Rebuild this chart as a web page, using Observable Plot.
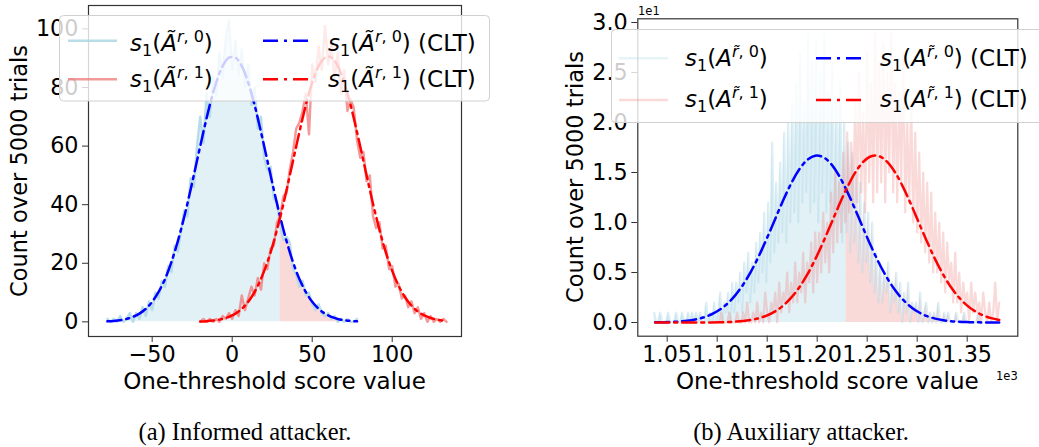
<!DOCTYPE html>
<html><head><meta charset="utf-8">
<script src="https://cdn.jsdelivr.net/npm/d3@7"></script>
<script src="https://cdn.jsdelivr.net/npm/@observablehq/plot@0.6"></script>
<style>
body{margin:0;background:#fff}
#wrap{position:relative;width:1039px;height:447px;overflow:hidden;background:#fff}
.panel{position:absolute;top:0}
#ov{position:absolute;left:0;top:0}
</style>
</head><body>
<div id="wrap"><div id="pa" class="panel" style="left:0px"></div><div id="pb" class="panel" style="left:520px"></div><svg id="ov" width="1039" height="447"></svg></div>
<script>
// ---------- Panel (a): Informed attacker ----------
const aBinStart0 = -78, aBinStart1 = -20, aBinStep = 2;
const aHist0 = [1,0,1,0,2,0,1,3,0,3,1,5,2,7,4,10,8,14,12,19,17,26,24,31,38,36,49,46,60,70,61,78,70,84,77,92,83,97,103,86,96,84,93,80,88,74,80,66,70,56,52,53,42,41,33,28,29,27,18,16,12,14,9,10,6,4,6,3,2,3,1,2,0,1,0,1,0,0,1];
const aHist1 = [0,1,0,1,0,1,0,2,1,3,1,4,2,9,4,8,12,9,15,11,20,18,25,26,34,36,43,44,52,58,66,68,72,78,64,88,82,94,86,101,88,95,83,92,78,86,72,76,73,62,56,58,48,50,36,32,34,25,26,18,19,12,13,8,9,5,7,3,5,1,3,0,2,0,1,0,1,0];
const aCltStart0 = -78, aCltStart1 = -20, aCltStep = 4;
const aClt0 = [0.17,0.32,0.57,1.0,1.71,2.8,4.46,6.85,10.2,14.6,20.4,27.5,35.8,45.1,55.0,64.8,74.0,81.7,87.3,90.2,90.2,87.3,81.7,74.0,64.8,55.0,45.1,35.8,27.5,20.4,14.6,10.2,6.85,4.46,2.8,1.71,1.0,0.57,0.32,0.17];
const aClt1 = [0.12,0.23,0.43,0.76,1.32,2.2,3.55,5.55,8.39,12.3,17.4,23.7,31.5,40.3,50.0,59.9,69.5,78.1,84.8,89.1,90.6,89.1,84.8,78.1,69.5,59.9,50.0,40.3,31.5,23.7,17.4,12.3,8.39,5.55,3.55,2.2,1.32,0.76,0.43];
const aThreshold = 30;
const aXTicks = [-50, 0, 50, 100];
const aYTicks = [0, 20, 40, 60, 80, 100];

// ---------- Panel (b): Auxiliary attacker ----------
const bBinStart0 = 1037, bBinStart1 = 1100, bBinStep = 2;
const bHist0 = [1,0,0,1,0,0,0,1,0,0, 0,1,0,0,1,0,0,1,0,1, 0,1,0,1,0,0,2,0,1,0, 2,0,1,3,0,2,1,3,0,4, 1,4,2,5,1,6,3,7,2,6, 3,8,4,9,5,11,4,12,6,18, 7,14,8,16,9,19,8,20,10,22, 11,24,10,27,12,22,13,29,11,26, 12,28,10,25,13,29,11,23,12,26, 10,22,11,24,8,20,9,18,7,17, 8,15,6,14,5,12,6,11,4,10, 3,7,2,6,2,5,3,6,1,4, 2,5,1,4,0,3,1,4,0,2, 1,2,0,3,0,1,2,0,1,0, 1,0,2,0,0,1,0,1,0,0, 0,1,0,0,0,1,0,0,0,0, 0,0,1,0,0];
const bHist1 = [0,0,1,0,0,0,1,0,0,0, 1,0,0,1,0,2,0,0,1,0, 2,0,1,0,3,1,0,2,1,3, 0,4,1,3,2,5,1,4,2,6, 2,5,3,7,2,6,4,8,3,9, 4,9,5,11,6,10,5,13,7,15, 8,14,9,17,10,19,11,18,12,22, 12,25,13,21,11,27,14,24,12,29, 13,26,14,28,12,25,15,29,13,24, 12,23,14,27,11,20,12,22,10,19, 9,17,8,15,7,14,6,13,5,11, 5,10,4,9,3,8,4,6,2,7, 2,5,1,4,2,3,0,4,1,3, 1,2,0,3,1,0,2,0,1,4, 0,2];
const bCltStart = 1038, bCltStep = 8;
const bClt0 = [0.014,0.027,0.052,0.097,0.173,0.298,0.497,0.80,1.244,1.869,2.71,3.80,5.14,6.72,8.49,10.36,12.22,13.91,15.30,16.25,16.68,16.54,15.84,14.65,13.09,11.30,9.42,7.59,5.90,4.44,3.22,2.26,1.53,1.00,0.63,0.387,0.228,0.130,0.072,0.038,0.020,0.010,0.005,0.002];
const bClt1 = [0,0,0.0002,0.0005,0.0012,0.0026,0.0056,0.0116,0.023,0.045,0.083,0.150,0.261,0.439,0.713,1.118,1.693,2.48,3.50,4.78,6.31,8.04,9.89,11.77,13.51,14.99,16.06,16.63,16.63,16.06,14.99,13.51,11.77,9.89,8.04,6.31,4.78,3.50,2.48,1.69,1.12,0.71,0.44,0.26];
const bThreshold = 1229;
const bXTicks = [1050, 1100, 1150, 1200, 1250, 1300, 1350];
const bYTicks = [0, 5, 10, 15, 20, 25, 30];

// ---------- Texts ----------
const xLabel = "One-threshold score value";
const yLabel = "Count over 5000 trials";
const captions = ["(a) Informed attacker.", "(b) Auxiliary attacker."];

const rows = (vals, start, step) => vals.map((y, i) => ({x: start + step * i, y}));

const LB = "#add8e6", LC = "#f08080";
const DASH = "14,5,3,5";

function panel({h0, h1, c0, c1, t, xDomain, yDomain, xTicks, yTicks, xFmt, yFmt, m, histOp0, histOp1, histW}) {
  return Plot.plot({
    width: m.w, height: 400,
    marginLeft: m.l, marginRight: m.r, marginTop: m.t, marginBottom: m.b,
    x: {domain: xDomain},
    y: {domain: yDomain},
    style: {fontFamily: "DejaVu Sans", fontSize: "22.3px", color: "black", background: "transparent", overflow: "visible"},
    marks: [
      Plot.areaY(h0.filter(d => d.x <= t), {x: "x", y: "y", fill: LB, fillOpacity: 0.35}),
      Plot.areaY(h0.filter(d => d.x >= t), {x: "x", y: "y", fill: LC, fillOpacity: 0.3}),
      Plot.lineY(h0, {x: "x", y: "y", stroke: LB, strokeWidth: histW, strokeOpacity: histOp0}),
      Plot.lineY(h1, {x: "x", y: "y", stroke: LC, strokeWidth: histW, strokeOpacity: histOp1}),
      Plot.line(c0, {x: "x", y: "y", stroke: "blue", strokeWidth: 2.5, strokeDasharray: DASH, curve: "catmull-rom"}),
      Plot.line(c1, {x: "x", y: "y", stroke: "red", strokeWidth: 2.5, strokeDasharray: DASH, curve: "catmull-rom"}),
      Plot.frame({stroke: "#333", strokeWidth: 1.2}),
      Plot.axisX({ticks: xTicks, tickFormat: xFmt, tickSize: 6, tickPadding: 4, label: null, stroke: "#333"}),
      Plot.axisY({ticks: yTicks, tickFormat: yFmt, tickSize: 6, tickPadding: 4, label: null, stroke: "#333"})
    ]
  });
}

const minus = d => (d < 0 ? "\u2212" : "") + Math.abs(d);
document.getElementById("pa").append(panel({
  h0: rows(aHist0, aBinStart0, aBinStep), h1: rows(aHist1, aBinStart1, aBinStep),
  c0: rows(aClt0, aCltStart0, aCltStep), c1: rows(aClt1, aCltStart1, aCltStep),
  t: aThreshold, xDomain: [-89.8, 143.3], yDomain: [-5, 108], xTicks: aXTicks, yTicks: aYTicks,
  xFmt: minus, yFmt: d => String(d),
  m: {w: 520, l: 88, r: 59, t: 5, b: 64}, histOp0: 0.85, histOp1: 0.8, histW: 2.4
}));
document.getElementById("pb").append(panel({
  h0: rows(bHist0, bBinStart0, bBinStep), h1: rows(bHist1, bBinStart1, bBinStep),
  c0: rows(bClt0, bCltStart, bCltStep), c1: rows(bClt1, bCltStart, bCltStep),
  t: bThreshold, xDomain: [1020.6, 1400.6], yDomain: [-1.37, 30.37], xTicks: bXTicks, yTicks: bYTicks,
  xFmt: d => (d / 1000).toFixed(2), yFmt: d => (d / 10).toFixed(1),
  m: {w: 519, l: 117.3, r: 21.7, t: 18.3, b: 64.3}, histOp0: 0.4, histOp1: 0.3, histW: 2.2
}));

// ---------- Overlay: labels, legends, captions ----------
const ov = d3.select("#ov").attr("font-family", "DejaVu Sans");
ov.append("text").attr("x", 274.5).attr("y", 389).attr("text-anchor", "middle").attr("font-size", 23).text(xLabel);
ov.append("text").attr("x", 827.3).attr("y", 389).attr("text-anchor", "middle").attr("font-size", 23).text(xLabel);
ov.append("text").attr("transform", "translate(27,171) rotate(-90)").attr("text-anchor", "middle").attr("font-size", 22.5).text(yLabel);
ov.append("text").attr("transform", "translate(583,177) rotate(-90)").attr("text-anchor", "middle").attr("font-size", 22.5).text(yLabel);
ov.append("text").attr("x", 638).attr("y", 15).attr("font-size", 11.5).text("1e1");
ov.append("text").attr("x", 996).attr("y", 380).attr("font-size", 11.5).text("1e3");
ov.append("text").attr("x", 245).attr("y", 440).attr("text-anchor", "middle").attr("font-family", "Liberation Serif").attr("font-size", 24.5).text(captions[0]);
ov.append("text").attr("x", 801).attr("y", 440).attr("text-anchor", "middle").attr("font-family", "Liberation Serif").attr("font-size", 24.5).text(captions[1]);

function label(x, y, head, supVar, digit, suffix) {
  const t = ov.append("text").attr("x", x).attr("y", y).attr("font-size", 23);
  t.append("tspan").attr("font-style", "italic").text("s");
  t.append("tspan").attr("font-size", 16).attr("dy", 5).text("1");
  t.append("tspan").attr("dy", -5).text("(");
  t.append("tspan").attr("font-style", "italic").text(head);
  t.append("tspan").attr("font-size", 16).attr("dy", -9).attr("font-style", "italic").text(supVar);
  t.append("tspan").attr("font-size", 16).text(", " + digit);
  t.append("tspan").attr("dy", 9).text(")" + suffix);
}
function legend(box, handles, texts) {
  ov.append("rect").attr("x", box[0]).attr("y", box[1]).attr("width", box[2]).attr("height", box[3])
    .attr("rx", 4).attr("fill", "white").attr("fill-opacity", 0.8).attr("stroke", "#d0d0d0").attr("stroke-width", 1);
  for (const h of handles) {
    ov.append("line").attr("x1", h.x1).attr("x2", h.x2).attr("y1", h.y).attr("y2", h.y)
      .attr("stroke", h.c).attr("stroke-width", h.w).attr("stroke-opacity", h.o).attr("stroke-dasharray", h.d || null);
  }
  for (const s of texts) label(...s);
}
// left legend
legend([59.5, 15.5, 430, 85.5], [
  {x1: 68, x2: 117, y: 40.7, c: LB, w: 2.5, o: 0.85},
  {x1: 68, x2: 117, y: 79.3, c: LC, w: 2.5, o: 0.8},
  {x1: 263, x2: 311, y: 40.7, c: "blue", w: 2.5, o: 1, d: "15,6,3,6"},
  {x1: 263, x2: 311, y: 79.3, c: "red", w: 2.5, o: 1, d: "15,6,3,6"}
], [
  [130, 50.5, "\u00C3", "r", "0", ""],
  [130, 87, "\u00C3", "r", "1", ""],
  [328, 50.5, "\u00C3", "r", "0", " (CLT)"],
  [328, 87, "\u00C3", "r", "1", " (CLT)"]
]);
// right legend
legend([611.5, 29.5, 440, 93], [
  {x1: 619, x2: 668, y: 58.3, c: LB, w: 2.5, o: 0.3},
  {x1: 619, x2: 668, y: 100, c: LC, w: 2.5, o: 0.3},
  {x1: 816, x2: 862, y: 58.3, c: "blue", w: 2.5, o: 1, d: "15,6,3,6"},
  {x1: 816, x2: 862, y: 100, c: "red", w: 2.5, o: 1, d: "15,6,3,6"}
], [
  [685, 65.5, "A", "r\u0303", "0", ""],
  [685, 107, "A", "r\u0303", "1", ""],
  [880, 65.5, "A", "r\u0303", "0", " (CLT)"],
  [880, 107, "A", "r\u0303", "1", " (CLT)"]
]);
</script>
</body></html>
